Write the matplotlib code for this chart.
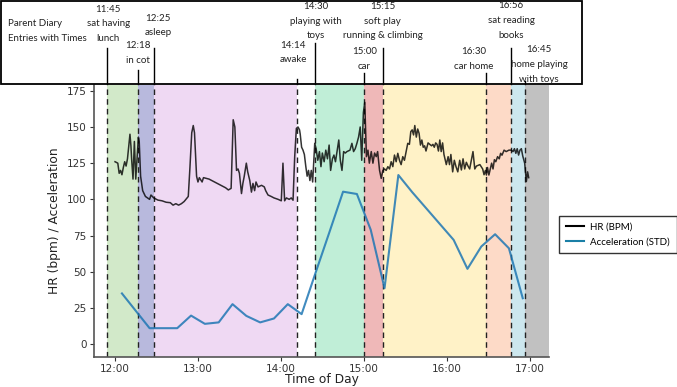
import matplotlib
matplotlib.use("Agg")
import matplotlib.pyplot as plt
from matplotlib.patches import Rectangle
from matplotlib.lines import Line2D
import matplotlib.transforms as mtransforms

# ---------------- data (minutes after 12:00) ----------------
hr_minutes = [0, 2, 3, 4, 5, 6, 7, 8, 9, 10.8, 11.5, 12, 13, 14, 15, 16.9, 17.5, 18.5, 20, 22,
              25, 26, 28, 31, 34, 37, 40, 42, 44, 46, 48, 50, 53, 54.2, 55.5, 56.6, 57.5, 59, 60, 61,
              63, 64, 66, 68, 70, 72, 74, 76, 78, 80, 82, 84, 85.5, 86.7, 87.9, 89, 90, 91.5, 92.5, 93.5,
              95, 96, 97.5, 98.7, 99.8, 101, 102, 103.5, 106, 108, 109, 110.7, 113, 115, 118, 120.3, 121.5, 122.7, 124, 126,
              127.5, 128.8, 130, 131.2, 132.4, 133.5, 134, 135, 136, 137, 138, 139, 140, 141, 142, 143, 144.5, 145.5, 146.7, 147.9,
              149, 150, 151.3, 152.5, 153.7, 154.9, 156, 157.3, 158.4, 159.5, 161.9, 163, 164.2, 165.4, 166.6, 167.8, 170, 171.4, 172.6, 173.8,
              175, 176.2, 177.4, 178.5, 179.7, 180.7, 181.9, 183, 184, 185.4, 186.6, 187.8, 189, 190, 191.4, 192.6, 193.8, 195, 196.2, 197.4,
              198.6, 199.8, 201, 202.2, 203.4, 204.6, 205.8, 207, 208.2, 209.4, 210.6, 211.8, 213, 214, 215, 216, 216.9, 218, 219, 220,
              221, 222, 223, 224, 225, 226.5, 227.7, 229, 230, 231, 232, 233, 234, 235, 236, 237, 238, 239.7, 241, 242,
              243, 244.3, 245.5, 246.7, 248, 249.4, 250.6, 251.8, 253, 254.2, 255.4, 256.6, 259, 260.3, 261.5, 264, 266, 267, 268, 268.7,
              269.5, 270.5, 271.5, 272.5, 273.5, 274.5, 275.5, 276.8, 278, 279, 280, 281.5, 283, 285, 286.8, 288, 289, 290, 291, 292,
              293, 294, 295, 296.4, 297.6, 298.5, 299.3]
hr_values = [126, 125, 118, 120, 117, 122, 126, 123, 128, 145, 137, 128, 114, 140, 114, 143, 140, 116, 106, 102,
             100, 103, 101, 99.5, 99, 98, 97.7, 96, 97, 96, 97, 98.5, 102, 122, 146, 151, 146, 116, 112, 115,
             112, 115, 114.5, 114, 113, 112, 111, 110, 109, 108, 106.5, 107.6, 155, 150, 120, 121, 118, 104, 111, 116,
             125, 119, 113, 105, 111, 106, 112, 108.6, 109.7, 108.6, 106, 103, 102, 101, 100, 99, 125, 99, 101, 100,
             101, 99.4, 129.5, 149, 150, 148, 145, 136, 134, 131, 123, 116, 120, 113, 120, 112, 138.7, 135, 127, 133,
             122.6, 132, 126, 134, 128, 137.5, 120, 128, 130.6, 126, 141, 127, 120, 133, 132, 133, 134, 138.7, 133, 135,
             138.7, 143, 150, 127, 160, 167, 129.5, 134, 125, 133, 125, 132, 129.5, 133, 120, 114.5, 120, 121, 120, 122.6,
             121, 126, 122.6, 130.6, 126, 131.8, 127, 124, 129.5, 127, 133, 138.7, 138, 146.8, 148, 144.5, 151, 143, 148.6, 145.6,
             137.5, 141, 136, 137, 133.4, 139, 138, 137, 138, 136, 139, 138, 133.4, 141, 133, 139, 131, 124, 129.5, 124,
             131, 119, 127, 122.6, 119, 127, 120.3, 128, 121, 125.6, 123, 121, 133, 121, 123, 124, 121, 117, 120, 116.8,
             122, 116.8, 121, 125, 121, 127.4, 126, 129.5, 128, 131.8, 130.5, 134, 133, 134, 134, 133, 135, 131.8, 135, 130.6,
             134, 135, 130, 125, 112.3, 119, 115]

acc_minutes = [5, 15, 25, 35, 45, 55, 65, 75, 85, 95, 105, 115, 125, 135, 145, 155, 165, 175, 185, 195,
               205, 215, 225, 235, 245, 255, 265, 275, 285, 295]
acc_values = [35, 23, 11, 11, 11, 19.7, 14, 15, 27.6, 19.5, 15, 17.7, 27.6, 20.7, 49, 77, 105.3, 103.7, 79, 38.6,
              116.8, 105, 94, 83, 72, 52, 67.4, 75.9, 66.2, 31.7]

# activity periods (boundaries in minutes after 12:00)
period_bounds = [-6, 16.5, 28.2, 131.8, 145.0, 180, 193.9, 268.7, 286.8, 296.4, 314]
period_colors = ['#d2e9c9', '#b8b9dd', '#efd9f3', None, '#c0eed7', '#efb8b8', '#fff2c7', '#fddac7', '#cce7ee', '#c1c1c1']
dashed_lines = [-6, 16.5, 28.2, 131.8, 145.0, 180, 193.9, 268.7, 286.8, 296.4]

tick_minutes = [0, 60, 120, 180, 240, 300]
tick_labels = ['12:00', '13:00', '14:00', '15:00', '16:00', '17:00']
y_ticks = [0, 25, 50, 75, 100, 125, 150, 175]

# diary annotations: (lines, centre x px, first-line y px, index of event line, line-top y px)
diary = [
    (['11:45', 'sat having', 'lunch'], 108.3, 9.3, 0, 48),
    (['12:18', 'in cot'], 138.3, 46, 1, 70),
    (['12:25', 'asleep'], 158.3, 18.3, 2, 47.7),
    (['14:14', 'awake'], 293.3, 45.3, 3, 79.3),
    (['14:30', 'playing with', 'toys'], 316, 6.7, 4, 42.7),
    (['15:00', 'car'], 364.3, 51.7, 5, 72.7),
    (['15:15', 'soft play', 'running & climbing'], 382.5, 6.7, 6, 47.7),
    (['16:30', 'car home'], 473.3, 52, 7, 73),
    (['16:56', 'sat reading', 'books'], 511, 6, 8, 47.7),
    (['16:45', 'home playing', 'with toys'], 539, 50, 9, 81),
]

# ---------------- figure ----------------
W, H = 677, 387
fig = plt.figure(figsize=(W / 100, H / 100), dpi=100)
ax = fig.add_axes([94.3 / W, 1 - 356.7 / H, (549 - 94.3) / W, (356.7 - 85) / H])

def fx(x):
    return x / W

def fy(y):
    return 1 - y / H

for i, c in enumerate(period_colors):
    if c is not None:
        ax.axvspan(period_bounds[i], period_bounds[i + 1], color=c, lw=0, zorder=0)
for x in dashed_lines:
    ax.axvline(x, color='#222222', lw=1.0, ls=(0, (4, 3)), zorder=1)

ax.plot(hr_minutes, hr_values, color='black', lw=1.1, alpha=0.8, zorder=3)
ax.plot(acc_minutes, acc_values, color='#1f77b4', lw=1.5, alpha=0.85, zorder=3)

ax.set_xlim(-15, 314)
ax.set_ylim(-8.7, 179)
ax.set_xticks(tick_minutes)
ax.set_xticklabels(tick_labels)
ax.set_yticks(y_ticks)
ax.tick_params(labelsize=7.5, colors='#333333', length=3, pad=2.5)
for s in ['top', 'right']:
    ax.spines[s].set_visible(False)
for s in ['left', 'bottom']:
    ax.spines[s].set_color('#555555')
    ax.spines[s].set_linewidth(1.2)
ax.set_xlabel('Time of Day', fontsize=8.8, color='#222222', labelpad=-1)
ax.set_ylabel('HR (bpm) / Acceleration', fontsize=8.8, color='#222222', labelpad=4)

# legend
handles = [Line2D([], [], color='black', lw=1.5), Line2D([], [], color='#1a7fa6', lw=1.5)]
leg = fig.legend(handles, ['HR (BPM)', 'Acceleration (STD)'], loc='upper left',
                 bbox_to_anchor=(fx(559), fy(216)), frameon=True, fancybox=False,
                 edgecolor='black', prop={'family': 'Lato', 'size': 7},
                 handlelength=1.9, handletextpad=0.6, borderpad=0.7, labelspacing=0.55,
                 borderaxespad=0)
leg.get_frame().set_linewidth(1.0)

# diary annotation box
fig.add_artist(Rectangle((fx(0.7), fy(84)), fx(582) - fx(0.7), fy(0.7) - fy(84),
                         transform=fig.transFigure, fill=False, edgecolor='black', lw=1.3))
tf = dict(family='Lato', size=7.0, color='#222222')
fig.text(fx(8), fy(24), 'Parent Diary', ha='left', va='center', **tf)
fig.text(fx(8), fy(38.3), 'Entries with Times', ha='left', va='center', **tf)
blend = mtransforms.blended_transform_factory(ax.transData, fig.transFigure)
for lines, cx, y0, idx, ytop in diary:
    for k, t in enumerate(lines):
        fig.text(fx(cx), fy(y0 + 14.5 * k), t, ha='center', va='center', **tf)
    xl = dashed_lines[idx]
    fig.add_artist(Line2D([xl, xl], [fy(ytop), fy(84)], transform=blend, color='black', lw=1.0))

fig.savefig('out.png', dpi=100)
